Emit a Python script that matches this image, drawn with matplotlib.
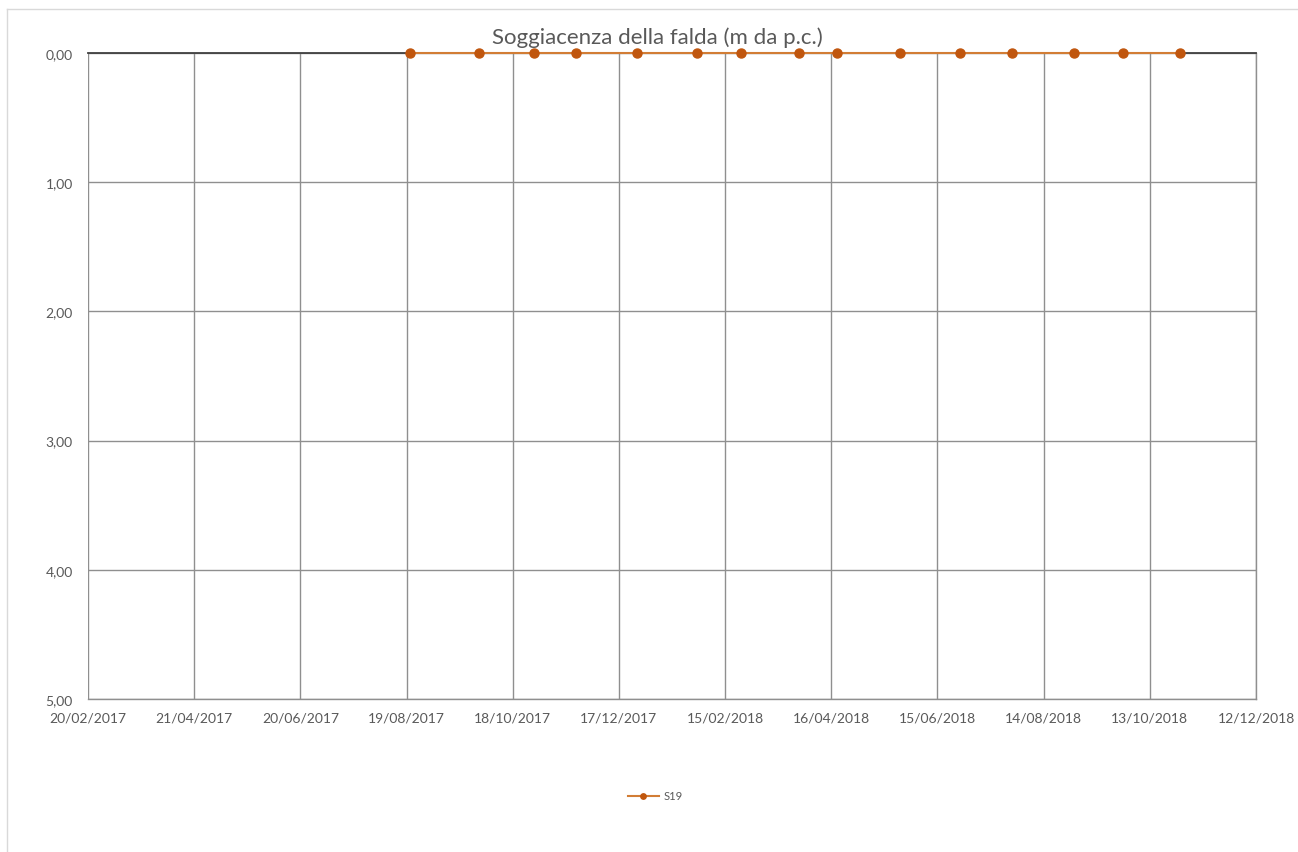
import matplotlib
matplotlib.use("Agg")
import matplotlib.pyplot as plt
import matplotlib.dates as mdates
import numpy as np
import datetime as dt

plt.rcParams['font.family'] = ['Lato', 'DejaVu Sans']

dates = ["21/08/2017", "29/09/2017", "30/10/2017", "23/11/2017", "27/12/2017",
         "30/01/2018", "24/02/2018", "29/03/2018", "19/04/2018", "25/05/2018",
         "28/06/2018", "27/07/2018", "31/08/2018", "28/09/2018", "30/10/2018"]
values = [0.0] * 15
series_name = "S19"
tick_dates = ["20/02/2017", "21/04/2017", "20/06/2017", "19/08/2017", "18/10/2017",
              "17/12/2017", "15/02/2018", "16/04/2018", "15/06/2018", "14/08/2018",
              "13/10/2018", "12/12/2018"]
y_ticks = [0, 1, 2, 3, 4, 5]
title = "Soggiacenza della falda (m da p.c.)"

def p(s):
    return dt.datetime.strptime(s, "%d/%m/%Y")

xd = [p(s) for s in dates]
xt = [p(s) for s in tick_dates]

fig = plt.figure(figsize=(12.98, 8.53), dpi=100)
ax = fig.add_axes([88/1298, 1-700/853, (1256-88)/1298, (700-54)/853])

ax.set_xlim(xt[0], xt[-1])
ax.set_ylim(5, 0)
ax.set_xticks(xt)
ax.xaxis.set_major_formatter(mdates.DateFormatter("%d/%m/%Y"))
ax.set_yticks(y_ticks)
ax.set_yticklabels([f"{v:.2f}".replace(".", ",") for v in y_ticks])
ax.grid(True, color="#8F8F8F", lw=1.0)
ax.set_axisbelow(True)
for s in ax.spines.values():
    s.set_visible(False)
ax.tick_params(length=0, colors="#595959", labelsize=10)
ax.tick_params(axis='x', pad=9)
ax.tick_params(axis='y', pad=11)
ax.axhline(5, color="#8F8F8F", lw=1.0, zorder=1.4, clip_on=False)
ax.axvline(xt[-1], color="#8F8F8F", lw=1.0, zorder=1.4, clip_on=False)
ax.axhline(0, color="#404040", lw=1.3, zorder=1.5, clip_on=False)

ax.plot(xd, values, color="#D27D35", lw=1.5, marker="o", markersize=6.5,
        markerfacecolor="#C0560E", markeredgecolor="#C0560E", label=series_name,
        zorder=3, clip_on=False)

fig.text(657/1298, 1-38/853, title, ha="center", va="center", fontsize=16, color="#595959")

leg = fig.legend(loc="center", bbox_to_anchor=(655/1298, 1-797/853), frameon=False,
                 fontsize=8, handlelength=2.8, labelcolor="#595959", markerscale=0.6,
                 handletextpad=0.4)

# chart border
fig.add_artist(plt.Line2D([7/1298, 7/1298], [0, 1-10/853], color="#D9D9D9", lw=1, transform=fig.transFigure))
fig.add_artist(plt.Line2D([7/1298, 1], [1-10/853, 1-10/853], color="#D9D9D9", lw=1, transform=fig.transFigure))

fig.savefig("out.png", dpi=100)
